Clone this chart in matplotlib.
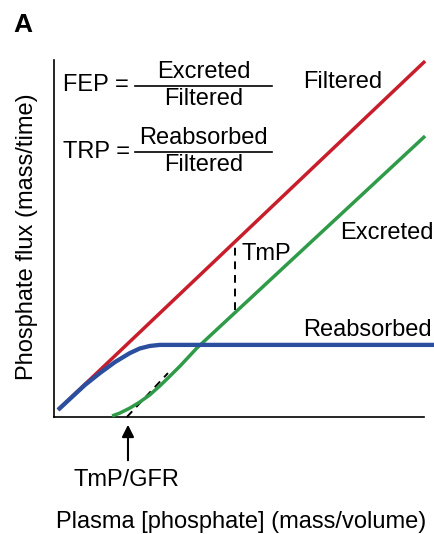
import matplotlib.pyplot as plt

plt.rcParams['font.family'] = ['Liberation Sans', 'DejaVu Sans']

# curve points (plasma phosphate, flux)
filtered_x = [0.11, 10.03]
filtered_y = [0.20, 9.97]

reabsorbed_x = [0.11, 0.84, 1.24, 1.65, 2.05, 2.32, 2.59, 2.86, 10.30]
reabsorbed_y = [0.20, 0.90, 1.23, 1.54, 1.79, 1.92, 1.99, 2.02, 2.02]

excreted_x = [1.57, 1.78, 2.05, 2.32, 2.59, 2.86, 3.05, 3.41, 3.86, 10.03]
excreted_y = [0.03, 0.11, 0.25, 0.42, 0.62, 0.87, 1.06, 1.43, 1.93, 7.87]

# asymptote of excreted line, and the TmP gap
asym_x = [1.97, 3.08]
asym_y = [0.0, 1.23]
tmp_x = 4.89
tmp_y = [3.00, 4.87]
threshold_x = 2.0

RED = '#c81e2c'
GREEN = '#2f9b48'
BLUE = '#2b4f9e'
FS = 17

fig = plt.figure(figsize=(4.35, 5.34), dpi=100)
ax = fig.add_axes([0.1241, 0.2191, 0.8506, 0.6685])
ax.set_xlim(0, 10)
ax.set_ylim(0, 10)
ax.set_xticks([])
ax.set_yticks([])
for s in ['top', 'right']:
    ax.spines[s].set_visible(False)
for s in ['left', 'bottom']:
    ax.spines[s].set_linewidth(1.2)

lw = 2.5
ax.plot(filtered_x, filtered_y, color=RED, lw=lw, clip_on=False, solid_capstyle='butt', zorder=3)
ax.plot(excreted_x, excreted_y, color=GREEN, lw=lw, clip_on=False, solid_capstyle='butt', zorder=3)
ax.plot(reabsorbed_x, reabsorbed_y, color=BLUE, lw=lw + 0.6, clip_on=False, solid_capstyle='butt', zorder=4)
ax.plot(asym_x, asym_y, color='black', lw=1.4, ls=(0, (4, 3)), clip_on=False, zorder=2)
ax.plot([tmp_x, tmp_x], tmp_y, color='black', lw=1.4, ls=(0, (4, 3)), zorder=2)

# arrow to TmP/GFR
ax.annotate('', xy=(threshold_x, -0.14), xytext=(threshold_x, -1.29),
            arrowprops=dict(arrowstyle='-|>', color='black', lw=1.5, mutation_scale=18),
            annotation_clip=False)
ax.text(1.97, -1.76, 'TmP/GFR', fontsize=FS, ha='center', va='center', clip_on=False)

# curve labels
ax.text(6.73, 9.38, 'Filtered', fontsize=FS, ha='left', va='center', clip_on=False)
ax.text(7.73, 5.15, 'Excreted', fontsize=FS, ha='left', va='center', clip_on=False)
ax.text(6.73, 2.44, 'Reabsorbed', fontsize=FS, ha='left', va='center', clip_on=False)
ax.text(5.08, 4.57, 'TmP', fontsize=FS, ha='left', va='center')

# formulas
ax.text(0.24, 9.30, 'FEP =', fontsize=FS, ha='left', va='center')
ax.plot([2.19, 5.89], [9.27, 9.27], color='black', lw=1.2)
ax.text(4.05, 9.66, 'Excreted', fontsize=FS, ha='center', va='center')
ax.text(4.05, 8.91, 'Filtered', fontsize=FS, ha='center', va='center')

ax.text(0.24, 7.42, 'TRP =', fontsize=FS, ha='left', va='center')
ax.plot([2.19, 5.89], [7.42, 7.42], color='black', lw=1.2)
ax.text(4.05, 7.82, 'Reabsorbed', fontsize=FS, ha='center', va='center')
ax.text(4.05, 7.06, 'Filtered', fontsize=FS, ha='center', va='center')

# axis titles and panel letter
fig.text(27 / 435, 1 - 237 / 534, 'Phosphate flux (mass/time)', fontsize=FS,
         rotation=90, ha='center', va='center')
fig.text(241 / 435, 1 - 522 / 534, 'Plasma [phosphate] (mass/volume)', fontsize=FS,
         ha='center', va='center')
fig.text(13 / 435, 1 - 25 / 534, 'A', fontsize=19, fontweight='bold', ha='left', va='center')

fig.savefig('out.png', dpi=100)
